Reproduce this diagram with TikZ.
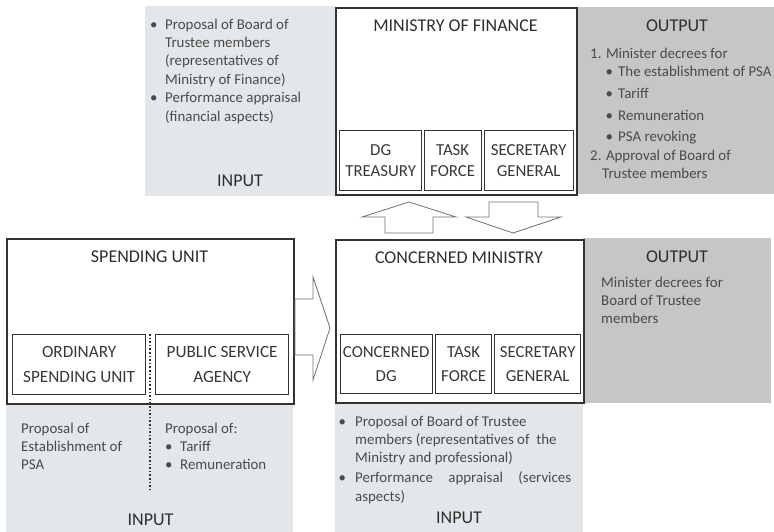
\documentclass[tikz,border=0pt]{standalone}
\usepackage{fontspec}
\setmainfont{Carlito}
\usepackage{xcolor}
\definecolor{inputgray}{HTML}{E4E7EA}
\definecolor{outputgray}{HTML}{C6C6C6}
\definecolor{boxline}{HTML}{333333}
\definecolor{textgray}{HTML}{4A4A4A}
\usepackage{tikz}
\usetikzlibrary{positioning}

\newcommand{\bul}[1][12pt]{\makebox[#1][l]{\textbullet}}

\tikzset{
  panel/.style={anchor=north west, inner sep=0pt},
  unitbox/.style={draw=boxline, line width=1.6pt, fill=white, anchor=north west, inner sep=0pt},
  subunit/.style={draw=boxline, line width=1.3pt, anchor=north west, inner sep=0pt,
    align=center, text=black!78, font=\fontsize{16.8}{21}\selectfont},
  heading/.style={anchor=base, inner sep=0pt, text=black!82, font=\fontsize{18}{21}\selectfont},
  bodytext/.style={anchor=north west, inner sep=0pt, align=left, text=textgray,
    font=\fontsize{14.9}{18.4}\selectfont},
  blockarrow/.style={draw=black!55, line width=0.8pt, fill=white}
}

\begin{document}
\begin{tikzpicture}[x=1pt, y=-1pt]
  \useasboundingbox (0,0) rectangle (774,532);

  %  ministry of finance row
  \node[panel, fill=inputgray, minimum width=190pt, minimum height=190pt] (mofin) at (145,6) {};
  \node[panel, fill=outputgray, minimum width=198pt, minimum height=187pt] (mofout) at (576,7) {};
  \node[unitbox, minimum width=241pt, minimum height=187pt] (mof) at (335,7) {};
  \node[heading] (moftitle) at (455.5,32) {MINISTRY OF FINANCE};
  \node[subunit, minimum width=82pt, minimum height=60pt] (dgtreas) at (339,130) {DG\\TREASURY};
  \node[subunit, minimum width=57pt, minimum height=60pt] (moftask) at (423.5,130) {TASK\\FORCE};
  \node[subunit, minimum width=89pt, minimum height=60pt] (mofsec) at (483.5,130) {SECRETARY\\GENERAL};

  \node[bodytext] (mofintext) at (150,16.1) {\strut\bul[15pt]Proposal of Board of\\
    \strut\hspace*{15pt}Trustee members\\
    \strut\hspace*{15pt}(representatives of\\
    \strut\hspace*{15pt}Ministry of Finance)\\
    \strut\bul[15pt]Performance appraisal\\
    \strut\hspace*{15pt}(financial aspects)};
  \node[heading] (mofinlabel) at (240,186) {INPUT};

  \node[heading] (mofoutlabel) at (677,32) {OUTPUT};
  \node[bodytext] (mofouttext) at (590,45.1) {\strut1. Minister decrees for\\
    \strut\hspace*{15.4pt}\bul[12.6pt]The establishment of PSA\\[3.6pt]
    \strut\hspace*{15.4pt}\bul[12.6pt]Tariff\\[3.6pt]
    \strut\hspace*{15.4pt}\bul[12.6pt]Remuneration\\[2.6pt]
    \strut\hspace*{15.4pt}\bul[12.6pt]PSA revoking\\[0.6pt]
    \strut2. Approval of Board of\\
    \strut\hspace*{12pt}Trustee members};

  %  arrows between the ministries
  \draw[blockarrow] (385,233) -- (385,217) -- (362,217) -- (409,202)
    -- (456,217) -- (433,217) -- (433,233) -- cycle;
  \draw[blockarrow] (489,202) -- (538,202) -- (538,217) -- (561,217)
    -- (513,233) -- (466,217) -- (489,217) -- cycle;

  %  spending unit
  \node[panel, fill=inputgray, minimum width=287pt, minimum height=129pt] (spendin) at (6,403) {};
  \node[unitbox, minimum width=287pt, minimum height=165pt] (spend) at (6,238) {};
  \node[heading] (spendtitle) at (149.5,262) {SPENDING UNIT};
  \node[subunit, minimum width=133pt, minimum height=60pt,
    font=\fontsize{17.2}{24.5}\selectfont] (ordsu) at (12,334) {ORDINARY\\SPENDING UNIT};
  \node[subunit, minimum width=133pt, minimum height=60pt,
    font=\fontsize{17.2}{24.5}\selectfont] (psa) at (155,334) {PUBLIC SERVICE\\AGENCY};
  \draw[boxline, line width=1.3pt, dash pattern=on 1.6pt off 2pt] (150,334) -- (150,492);

  \node[bodytext] (spendintext1) at (21,420.1) {\strut Proposal of\\
    \strut Establishment of\\
    \strut PSA};
  \node[bodytext] (spendintext2) at (165,420.1) {\strut Proposal of:\\
    \strut\bul[15pt]Tariff\\
    \strut\bul[15pt]Remuneration};
  \node[heading] (spendinlabel) at (150.5,525) {INPUT};

  %  arrow to concerned ministry
  \draw[blockarrow] (295,299) -- (313,299) -- (313,277) -- (330,328)
    -- (313,380) -- (313,355) -- (295,355) -- cycle;

  %  concerned ministry
  \node[panel, fill=inputgray, minimum width=248pt, minimum height=129pt] (cmin) at (335,403) {};
  \node[panel, fill=outputgray, minimum width=188pt, minimum height=165pt] (cmout) at (583,238) {};
  \node[unitbox, minimum width=248pt, minimum height=163pt] (cm) at (335,239) {};
  \node[heading] (cmtitle) at (459,263) {CONCERNED MINISTRY};
  \node[subunit, minimum width=92pt, minimum height=59pt,
    font=\fontsize{16.8}{24.5}\selectfont] (cmdg) at (339.5,334) {CONCERNED\\DG};
  \node[subunit, minimum width=56pt, minimum height=59pt,
    font=\fontsize{16.8}{24.5}\selectfont] (cmtask) at (435,334) {TASK\\FORCE};
  \node[subunit, minimum width=86pt, minimum height=59pt,
    font=\fontsize{16.8}{24.5}\selectfont] (cmsec) at (494,334) {SECRETARY\\GENERAL};

  \node[heading] (cmoutlabel) at (677,262) {OUTPUT};
  \node[bodytext] (cmouttext) at (601,274.1) {\strut Minister decrees for\\
    \strut Board of Trustee\\
    \strut members};

  \node[bodytext] (cmintext) at (338.4,413.1) {\strut\bul[16.6pt]Proposal of Board of Trustee\\
    \strut\hspace*{16.6pt}members (representatives of\ \ the\\
    \strut\hspace*{16.6pt}Ministry and professional)\\[1.6pt]
    \strut\bul[16.6pt]\makebox[216pt][s]{Performance appraisal (services}\\
    \strut\hspace*{16.6pt}aspects)};
  \node[heading] (cminlabel) at (459,523) {INPUT};
\end{tikzpicture}
\end{document}
